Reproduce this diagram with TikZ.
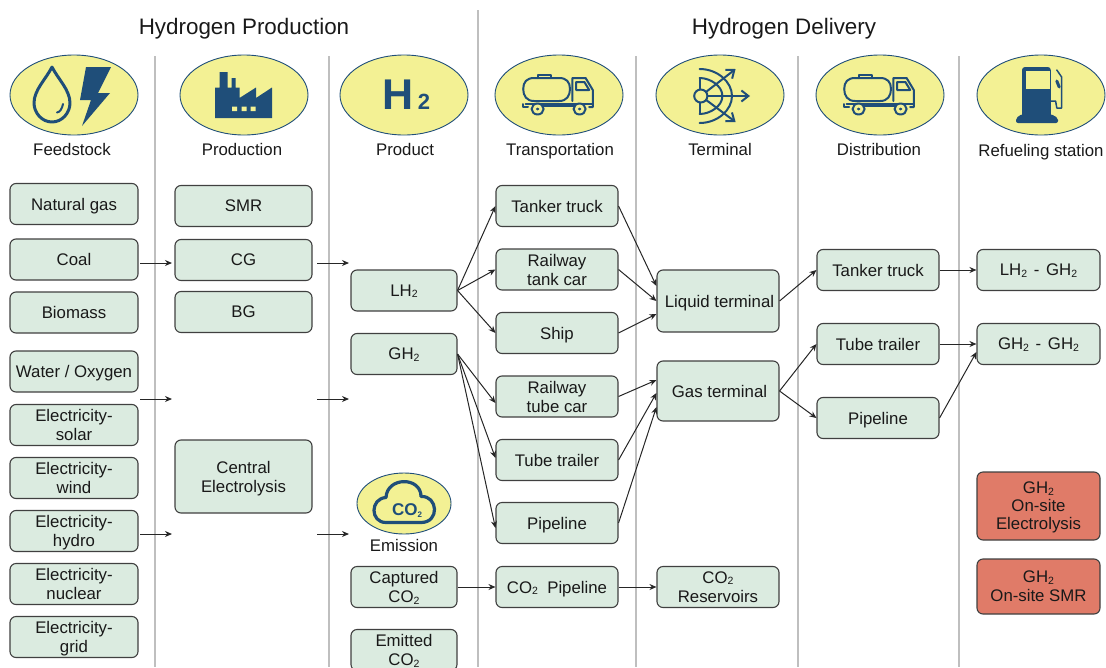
\documentclass[tikz,border=0pt]{standalone}
\usepackage{fontspec}
\setmainfont{Liberation Sans}
\usepackage{xcolor}
\usetikzlibrary{arrows.meta}

\definecolor{iconBlue}{HTML}{1F4E79}
\definecolor{iconYellow}{HTML}{F3F194}
\definecolor{boxGreen}{HTML}{DBEBE0}
\definecolor{boxRed}{HTML}{E07B68}
\definecolor{boxLine}{HTML}{404040}
\definecolor{divLine}{HTML}{BFBFBF}

\newcommand{\two}{\raisebox{-1.5pt}{\fontsize{10.5}{10.5}\selectfont 2}}

\begin{document}
\begin{tikzpicture}
[
	x=1pt,y=-1pt,
	every node/.style={font=\fontsize{16.8}{19}\selectfont,inner sep=0pt,align=center,text=black!90,text depth=0pt},
	box/.style={draw=boxLine,fill=boxGreen,line width=1.1pt,rounded corners=6pt,text depth=-3pt},
	feedBox/.style={box,minimum width=128pt,minimum height=41pt},
	prodBox/.style={box,minimum width=137pt,minimum height=41pt},
	gasBox/.style={box,minimum width=106pt,minimum height=41pt},
	wideBox/.style={box,minimum width=122pt,minimum height=41pt},
	redBox/.style={box,fill=boxRed,minimum width=123pt},
	badge/.style={draw=iconBlue,fill=iconYellow,line width=0.9pt},
	divider/.style={color=divLine,line width=1.1pt},
	flow/.style={-{Stealth[length=7pt,width=6pt]},color=black!85,line width=1pt},
	icon/.style={color=iconBlue,line width=2pt,line cap=round,line join=round},
	title/.style={font=\fontsize{22.4}{26}\selectfont}
]

\useasboundingbox (0,0) rectangle (1106,667);

\def\badgeShape{ellipse [x radius=64, y radius=40]}

% Draw dividers
\draw[divider] (155,56)--(155,667) (329,56)--(329,667) (636,56)--(636,667) (798,56)--(798,667) (959,56)--(959,667);
\draw[divider] (478,10)--(478,667);

% Titles
\node[title] (tprod) at (244,26) {Hydrogen Production};
\node[title] (tdel) at (784,26) {Hydrogen Delivery};

% Draw badges
\draw[badge] (74,95) \badgeShape (244,95) \badgeShape (404,95) \badgeShape (559,95) \badgeShape (720,95) \badgeShape (880,95) \badgeShape (1041,95) \badgeShape;
\draw[badge] (404,503.5) ellipse [x radius=47, y radius=30.5];

% Column labels
\node (lfeed) at (72,149) {Feedstock};
\node (lprod) at (242,149) {Production};
\node (lproduct) at (405,149) {Product};
\node (ltrans) at (560,149) {Transportation};
\node (lterm) at (720,149) {Terminal};
\node (ldist) at (879,149) {Distribution};
\node (lstat) at (1041,150) {Refueling station};
\node (lemis) at (404,545) {Emission};

% Drop and bolt
\draw[icon,line width=3pt] (52,67) .. controls (46,79) and (34,90) .. (34,103) .. controls (34,113) and (42,122) .. (52,122) .. controls (62,122) and (70,113) .. (70,103) .. controls (70,90) and (58,79) .. (52,67);
\draw[icon] (57,112.5) .. controls (60,112) and (62,109) .. (63,104);
\fill[iconBlue] (86,67)--(111,67)--(98,93)--(110,93)--(82,126)--(91,100)--(80,100)--cycle;

% Factory
\fill[iconBlue] (215,118)--(215,87.5)--(219.5,87.5)--(219.5,72)--(227.5,72)--(227.5,87.5)--(231.5,87.5)--(231.5,78)--(235.5,78)--(235.5,87.5)--(239.5,87.5)--(239.5,98)--(256,87.5)--(256,98)--(272,87.5)--(272,118)--cycle;
\fill[iconYellow] (232,106.5) rectangle +(5,4.5) (241.5,106.5) rectangle +(5,4.5) (250.5,106.5) rectangle +(5,4.5);

% H2 mark
\node[text=iconBlue,font=\fontsize{43}{43}\selectfont\bfseries] (hmark) at (406.5,95) {H\hspace{4pt}\fontsize{22}{22}\selectfont 2};

% Trucks
\def\truckIcon{
	\draw[icon] (-29,-6) .. controls (-29,-13) and (-26,-17) .. (-20,-17) -- (1,-17) .. controls (7,-17) and (10,-13) .. (10,-6) .. controls (10,1) and (7,6) .. (1,6) -- (-20,6) .. controls (-26,6) and (-29,1) .. (-29,-6);
	\draw[icon] (-17,-17)--(-17,-20)--(-6,-20)--(-6,-17);
	\draw[icon] (12,6)--(12,-17)--(23,-17)--(29,-5)--(29,12)--(26,12);
	\draw[icon] (15,-13)--(22,-13)--(26,-5)--(15,-5)--cycle;
	\draw[icon] (-29,9)--(-29,12)--(-25,12) (-15,11)--(16,11) (-27,9)--(29,9);
	\draw[icon,fill=iconYellow] (-17,14) circle [x radius=5, y radius=5.5] (18,14) circle [x radius=5, y radius=5.5];
	\fill[iconBlue] (-17,14) circle (1.5) (18,14) circle (1.5);
}
\begin{scope}[shift={(558,95)},xscale=1.2]
	\truckIcon
\end{scope}
\begin{scope}[shift={(879,95)},xscale=1.2]
	\truckIcon
\end{scope}

% Terminal fan
\begin{scope}[shift={(720,95)},xscale=1.2]
	\draw[icon] (-17,-17)--(-17,19);
	\draw[icon] (-17,-17) .. controls (-8,-17) and (2,-9) .. (2,1) .. controls (2,11) and (-8,19) .. (-17,19);
	\draw[icon] (-17,-26) .. controls (-2,-26) and (10,-13) .. (10,1) .. controls (10,15) and (-2,28) .. (-17,28);
	\draw[icon,-{Straight Barb[length=7pt,width=11pt]}] (-16,1)--(13,-26);
	\draw[icon,-{Straight Barb[length=7pt,width=11pt]}] (-16,1)--(25,1);
	\draw[icon,-{Straight Barb[length=7pt,width=11pt]}] (-16,1)--(13,27);
	\draw[icon,fill=iconYellow] (-16,1) circle [x radius=5.5, y radius=6.5];
\end{scope}

% Pump
\begin{scope}[shift={(1040,95)},xscale=1.2]
	\fill[iconBlue,rounded corners=3pt] (-15,24)--(-15,-28)--(9,-28)--(9,24)--cycle;
	\fill[iconBlue,rounded corners=2pt] (-20,28)--(-20,23)--(-15,19)--(9,19)--(15,23)--(15,28)--cycle;
	\fill[iconYellow] (-12,-24) rectangle (8,-6);
	\draw[icon,line width=1.5pt] (14,-25)--(18,-18)--(18,13)--(14,13)--(13,6)--(9,6);
	\draw[icon,line width=3pt] (14,-14)--(16,-8);
\end{scope}

% Cloud
\begin{scope}[shift={(404,503.5)}]
	\draw[icon,line width=3.2pt] (-18,19) .. controls (-34,19) and (-34,-5) .. (-18,-6) .. controls (-17,-27) and (17,-27) .. (17,-7) .. controls (34,-8) and (36,19) .. (17,19) -- cycle;
	\node[text=iconBlue,font=\fontsize{17}{17}\selectfont\bfseries] (co2mark) at (3,6) {CO\raisebox{-2pt}{\fontsize{8}{8}\selectfont 2}};
\end{scope}

% Feedstock boxes
\node[feedBox] (ng) at (74,204) {Natural gas};
\node[feedBox] (coal) at (74,259.5) {Coal};
\node[feedBox] (bio) at (74,312.5) {Biomass};
\node[feedBox] (water) at (74,371.5) {Water / Oxygen};
\node[feedBox] (solar) at (74,425) {Electricity-\\solar};
\node[feedBox] (wind) at (74,478) {Electricity-\\wind};
\node[feedBox] (hydro) at (74,531) {Electricity-\\hydro};
\node[feedBox] (nuclear) at (74,584) {Electricity-\\nuclear};
\node[feedBox] (grid) at (74,637) {Electricity-\\grid};

% Production boxes
\node[prodBox] (smr) at (243.5,206) {SMR};
\node[prodBox] (cg) at (243.5,260) {CG};
\node[prodBox] (bg) at (243.5,312) {BG};
\node[prodBox,minimum height=73pt] (elec) at (243.5,476.5) {Central\\Electrolysis};

% Product boxes
\node[gasBox] (lh) at (404,290.5) {LH\two};
\node[gasBox] (gh) at (404,354) {GH\two};
\node[gasBox] (capt) at (404,587) {Captured\\CO\two};
\node[gasBox] (emit) at (404,650) {Emitted\\CO\two};

% Transportation boxes
\node[wideBox] (tanker) at (557,206) {Tanker truck};
\node[wideBox] (tankcar) at (557,269.5) {Railway\\tank car};
\node[wideBox] (ship) at (557,333) {Ship};
\node[wideBox] (tubecar) at (557,396.5) {Railway\\tube car};
\node[wideBox] (trailer) at (557,460) {Tube trailer};
\node[wideBox] (pipe) at (557,523) {Pipeline};
\node[wideBox] (copipe) at (557,587) {CO\two\ \ Pipeline};

% Terminal boxes
\node[wideBox,minimum height=62pt] (liquid) at (718,301) {\hspace*{3pt}Liquid terminal};
\node[wideBox,minimum height=60pt] (gas) at (718,391) {\hspace*{3pt}Gas terminal};
\node[wideBox] (reserv) at (718,587) {CO\two\\Reservoirs};

% Distribution boxes
\node[wideBox] (dtanker) at (878,270) {Tanker truck};
\node[wideBox] (dtrailer) at (878,344) {Tube trailer};
\node[wideBox] (dpipe) at (878,418) {Pipeline};

% Station boxes
\node[box,minimum width=123pt,minimum height=41pt] (slh) at (1038.5,270) {LH\two\hspace{2pt} - \hspace{2pt}GH\two};
\node[box,minimum width=123pt,minimum height=41pt] (sgh) at (1038.5,344) {GH\two\hspace{2pt} - \hspace{2pt}GH\two};
\node[redBox,minimum height=68pt,font=\fontsize{16.8}{18}\selectfont] (onelec) at (1038.5,506) {GH\two\\On-site\\Electrolysis};
\node[redBox,minimum height=55pt] (onsmr) at (1038.5,586.5) {GH\two\\On-site SMR};

% Free arrows between the columns
\coordinate (a1) at (140,263); \coordinate (a2) at (172,263);
\coordinate (b1) at (317,263); \coordinate (b2) at (349,263);
\coordinate (c1) at (140,399); \coordinate (c2) at (172,399);
\coordinate (d1) at (317,399); \coordinate (d2) at (349,399);
\coordinate (e1) at (140,534); \coordinate (e2) at (172,534);
\coordinate (f1) at (317,534); \coordinate (f2) at (349,534);
\draw[flow] (a1)--(a2);
\draw[flow] (b1)--(b2);
\draw[flow] (c1)--(c2);
\draw[flow] (d1)--(d2);
\draw[flow] (e1)--(e2);
\draw[flow] (f1)--(f2);

% Product to transportation
\draw[flow] (lh.east)--(tanker.west);
\draw[flow] (lh.east)--(tankcar.west);
\draw[flow] (lh.east)--(ship.west);
\draw[flow] (gh.east)--([yshift=-6.5pt]tubecar.west);
\draw[flow] (gh.east)--([yshift=2pt]trailer.west);
\draw[flow] (gh.east)--([yshift=-5pt]pipe.west);
\draw[flow] (capt.east)--(copipe.west);

% Transportation to terminal
\draw[flow] (tanker.east)--([yshift=15pt]liquid.west);
\draw[flow] (tankcar.east)--(liquid.west);
\draw[flow] (ship.east)--([yshift=-13pt]liquid.west);
\draw[flow] (tubecar.east)--([yshift=11pt]gas.west);
\draw[flow] (trailer.east)--([yshift=-2pt]gas.west);
\draw[flow] (pipe.east)--([yshift=-16pt]gas.west);
\draw[flow] (copipe.east)--(reserv.west);

% Terminal to distribution
\draw[flow] (liquid.east)--(dtanker.west);
\draw[flow] (gas.east)--(dtrailer.west);
\draw[flow] (gas.east)--(dpipe.west);

% Distribution to station
\draw[flow] (dtanker.east)--(slh.west);
\draw[flow] (dtrailer.east)--(sgh.west);
\draw[flow] (dpipe.east)--([yshift=-8pt]sgh.west);

\end{tikzpicture}
\end{document}
